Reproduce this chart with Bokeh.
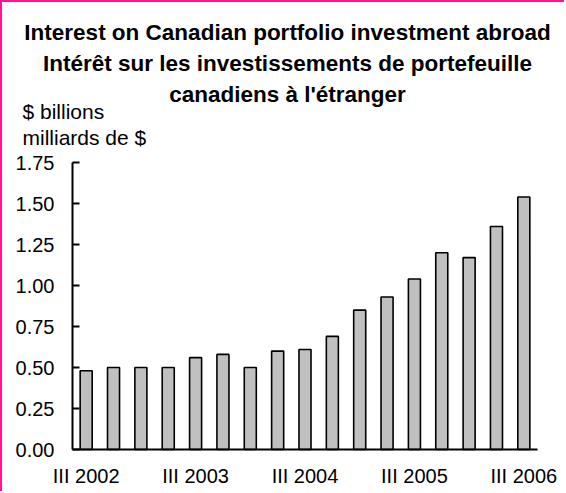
from bokeh.plotting import figure
from bokeh.models import (GlobalInlineStyleSheet, InlineStyleSheet, Range1d,
                          FixedTicker, NumeralTickFormatter)
from bokeh.core.properties import value
from bokeh.embed import file_html
from bokeh.resources import INLINE

quarters = ["III 2002", "IV 2002", "I 2003", "II 2003", "III 2003", "IV 2003",
            "I 2004", "II 2004", "III 2004", "IV 2004", "I 2005", "II 2005",
            "III 2005", "IV 2005", "I 2006", "II 2006", "III 2006"]
values = [0.48, 0.50, 0.50, 0.50, 0.56, 0.58, 0.50, 0.60, 0.61, 0.69,
          0.85, 0.93, 1.04, 1.20, 1.17, 1.36, 1.54]
y_ticks = [0.0, 0.25, 0.5, 0.75, 1.0, 1.25, 1.5, 1.75]
title_lines = ["Interest on Canadian portfolio investment abroad",
               "Intérêt sur les investissements de portefeuille",
               "canadiens à l'étranger"]
unit_lines = ["$ billions", "milliards de $"]

FONT = "Liberation Sans"
x_idx = list(range(len(quarters)))
tick_idx = [i for i, q in enumerate(quarters) if q.startswith("III")]

# page geometry (pixels); canvas starts at (2, 2) because of the 2px border
CW, CH = 564, 491
AX_L, AX_R, AX_T, AX_B = 72, 537, 162, 449      # axis box on the page
X0, X1 = -0.5, len(quarters) - 0.5
Y0, Y1 = 0.0, 1.75
PXU = (AX_R - AX_L) / (X1 - X0)
PYU = (AX_B - AX_T) / (Y1 - Y0)
x_start = X0 - (AX_L - 2) / PXU
x_end = X1 + (2 + CW - AX_R) / PXU
y_start = Y0 - (2 + CH - AX_B) / PYU
y_end = Y1 + (AX_T - 2) / PYU


def px_x(px):
    return X0 + (px - AX_L) / PXU


def px_y(py):
    return Y0 + (AX_B - py) / PYU


p = figure(width=CW, height=CH, output_backend="svg", toolbar_location=None,
           x_range=Range1d(x_start, x_end), y_range=Range1d(y_start, y_end),
           min_border=0, min_border_left=0, min_border_right=0,
           min_border_top=0, min_border_bottom=0)
p.stylesheets = [GlobalInlineStyleSheet(css="html,body{margin:0;padding:0;}"),
                 InlineStyleSheet(css=":host{border-left:2px solid #ff1493;border-top:2px solid #ff1493;}")]
p.outline_line_color = None
p.xgrid.visible = False
p.ygrid.visible = False

p.vbar(x=x_idx, top=values, width=0.44, fill_color="#c0c0c0",
       line_color="black", line_width=1.6)

xa = p.xaxis[0]
xa.fixed_location = Y0
xa.bounds = (X0, X1)
xa.ticker = FixedTicker(ticks=tick_idx)
xa.major_label_overrides = {i: quarters[i] for i in tick_idx}
xa.major_tick_in = 0
xa.major_tick_out = 0
xa.minor_tick_in = 0
xa.minor_tick_out = 0
xa.axis_line_width = 2
xa.axis_line_color = "black"
xa.major_label_text_font = FONT
xa.major_label_text_font_size = "20px"
xa.major_label_text_color = "black"
xa.major_label_standoff = 15

ya = p.yaxis[0]
ya.fixed_location = X0
ya.bounds = (Y0, Y1)
ya.ticker = FixedTicker(ticks=y_ticks)
ya.formatter = NumeralTickFormatter(format="0.00")
ya.major_tick_in = 7
ya.major_tick_out = 0
ya.minor_tick_in = 0
ya.minor_tick_out = 0
ya.major_tick_line_width = 2
ya.axis_line_width = 2
ya.axis_line_color = "black"
ya.major_label_text_font = FONT
ya.major_label_text_font_size = "20px"
ya.major_label_text_color = "black"
ya.major_label_standoff = 18

p.text(x=[px_x(287)] * len(title_lines), y=[px_y(b) for b in (32, 63, 94)],
       text=title_lines, text_align="center", text_baseline="alphabetic",
       text_font=value(FONT), text_font_style="bold",
       text_font_size="22.5px", text_color="black")
p.text(x=[px_x(22)] * len(unit_lines), y=[px_y(b) for b in (111, 137)],
       text=unit_lines, text_align="left", text_baseline="alphabetic",
       text_font=value(FONT), text_font_size="21px", text_color="black")

open("out.html", "w").write(file_html(p, INLINE))
